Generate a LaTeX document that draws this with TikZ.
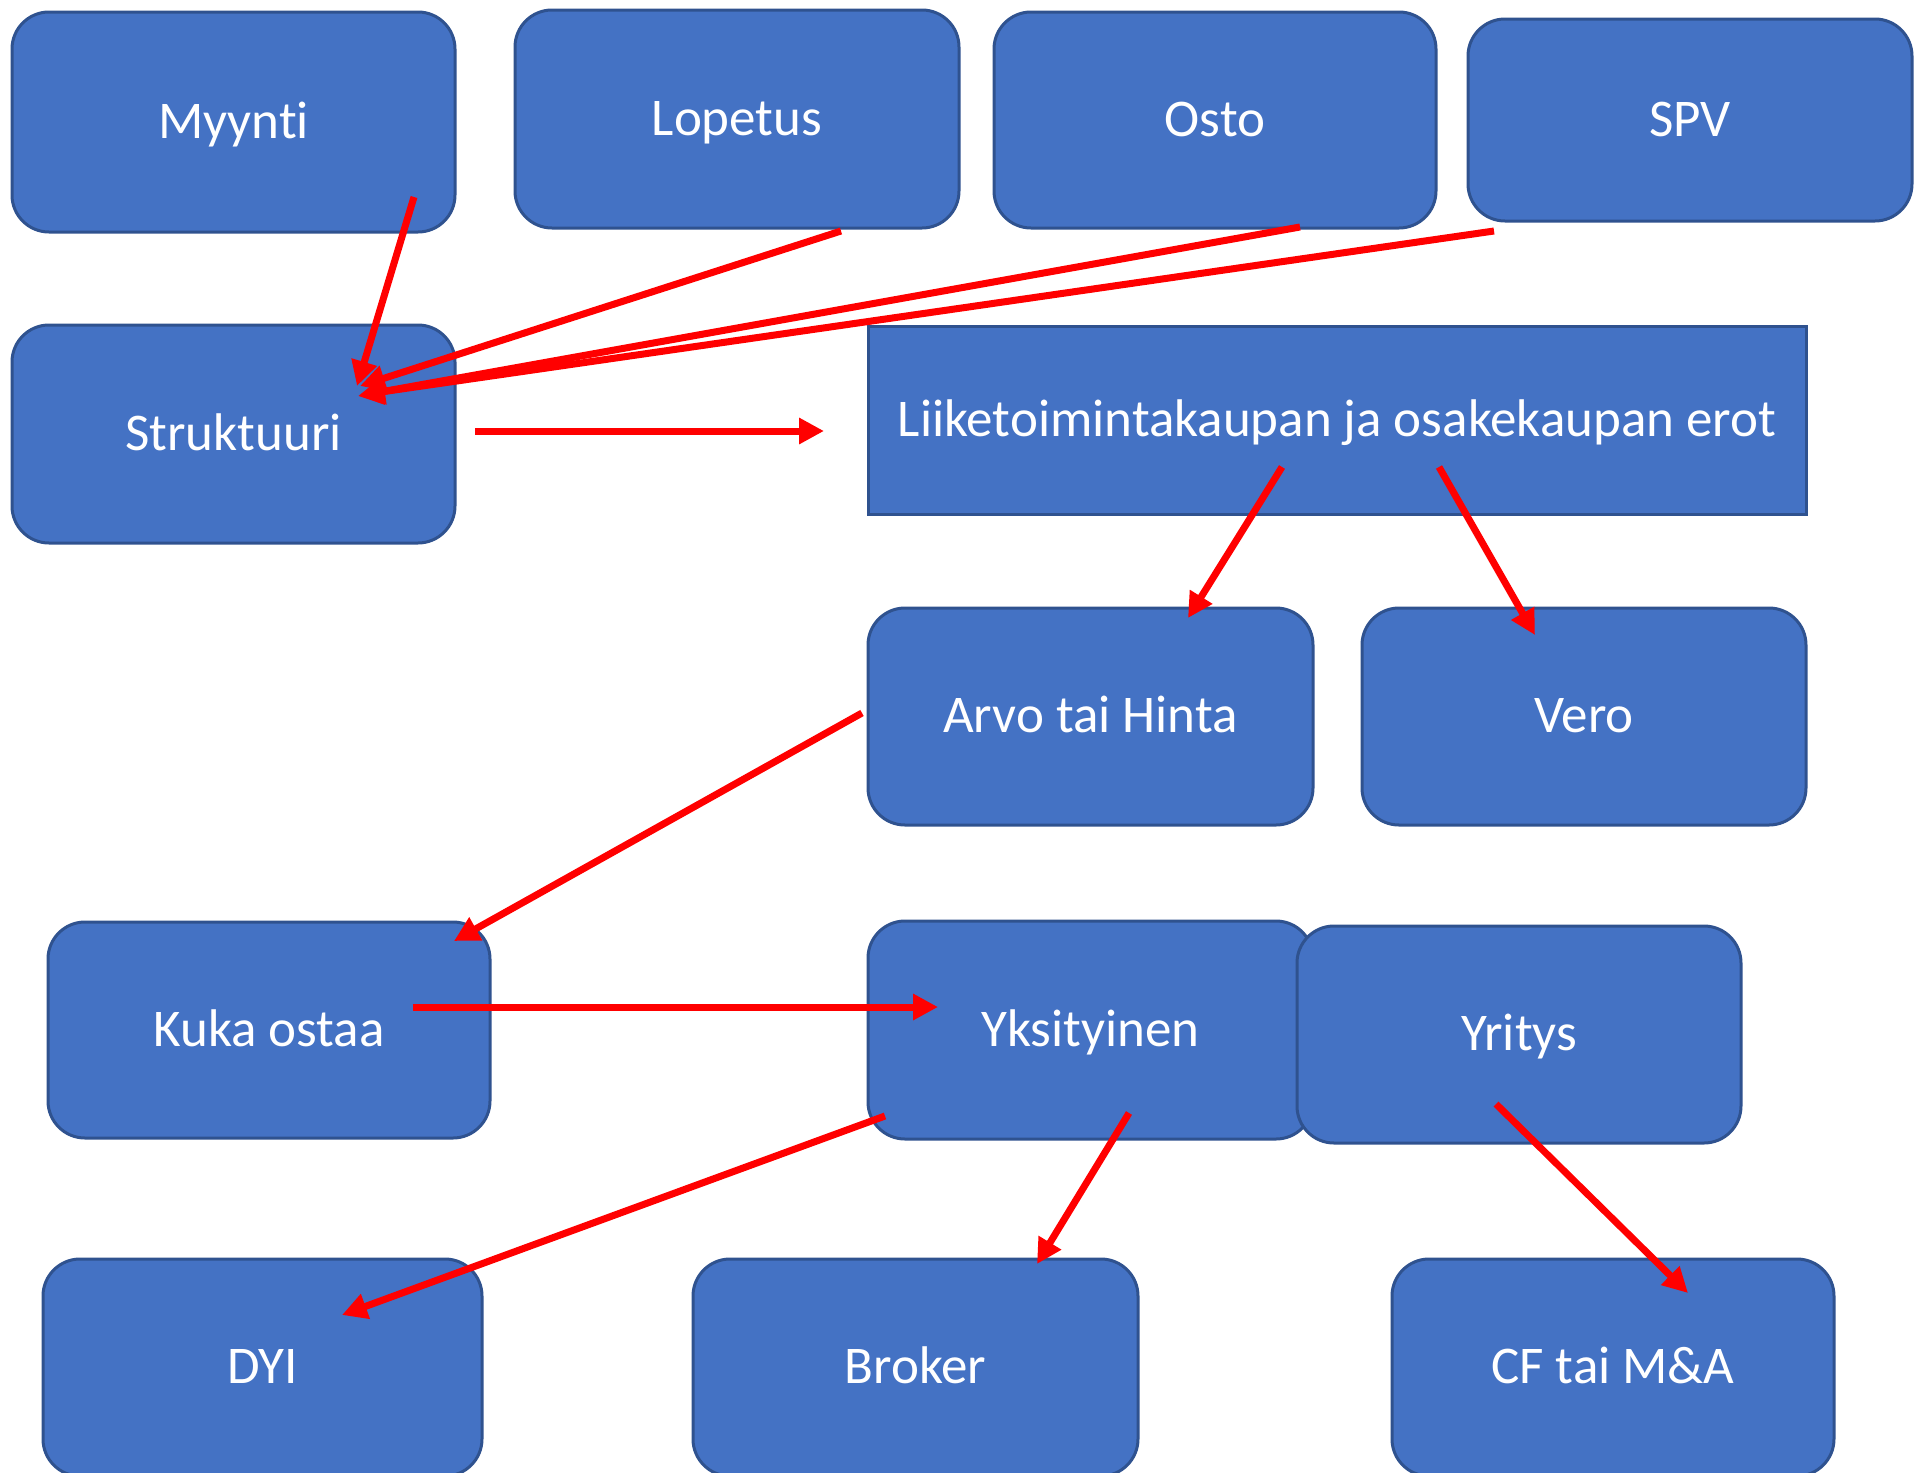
\documentclass[tikz,border=0pt]{standalone}
\usepackage{fontspec}
\setmainfont{Carlito}[Ligatures=NoCommon]
\usetikzlibrary{arrows.meta}
\definecolor{boxfill}{HTML}{4472C4}
\definecolor{boxline}{HTML}{2F528F}
\definecolor{arrowred}{HTML}{FF0000}
\tikzset{
  card/.style={draw=boxline, fill=boxfill, line width=3pt, rounded corners=37pt,
    inner sep=0pt, text=white, font=\fontsize{53}{62}\selectfont,
    text height=40pt, text depth=8pt},
  flatcard/.style={card, rounded corners=0pt},
  link/.style={draw=arrowred, line width=7pt, -{Triangle[length=25pt,width=25pt]}},
}
\begin{document}
\begin{tikzpicture}[x=1pt,y=-1pt]
\useasboundingbox (0,0) rectangle (1915,1473);
\clip (0,0) rectangle (1915,1473);
% boxes
\node[card, minimum width=443pt, minimum height=220pt] (myynti) at (233.5,122) {Myynti};
\node[card, minimum width=444pt, minimum height=218pt] (lopetus) at (737,119) {Lopetus};
\node[card, minimum width=442pt, minimum height=216pt] (osto) at (1215,120) {Osto};
\node[card, minimum width=444pt, minimum height=202pt] (spv) at (1690,120) {SPV};
\node[card, minimum width=443pt, minimum height=218pt] (struk) at (233.5,434) {Struktuuri};
\node[flatcard, minimum width=938pt, minimum height=188pt] (liike) at (1337,420) {Liiketoimintakaupan ja osakekaupan erot};
\node[card, minimum width=445pt, minimum height=217pt] (arvo) at (1090.5,716.5) {Arvo tai Hinta};
\node[card, minimum width=444pt, minimum height=217pt] (vero) at (1584,716.5) {Vero};
\node[card, minimum width=442pt, minimum height=216pt] (kuka) at (269,1030) {Kuka ostaa};
\node[card, minimum width=445pt, minimum height=218pt] (yks) at (1090.5,1030) {Yksityinen};
\node[card, minimum width=444pt, minimum height=217pt] (yri) at (1519,1034.5) {Yritys};
\node[card, minimum width=439pt, minimum height=217pt] (dyi) at (262.5,1367.5) {DYI};
\node[card, minimum width=445pt, minimum height=217pt] (broker) at (915.5,1367.5) {Broker};
\node[card, minimum width=442pt, minimum height=217pt] (cf) at (1613,1367.5) {CF tai M\&A};
% connectors (ends given relative to the box centres)
\draw[link] ([shift={(180.5,75)}]myynti.center) -- ([shift={(123.5,-48)}]struk.center);
\draw[link] ([shift={(104,112)}]lopetus.center) -- ([shift={(126.5,-48)}]struk.center);
\draw[link] ([shift={(85,107)}]osto.center) -- ([shift={(124.5,-38)}]struk.center);
\draw[link] ([shift={(-196,111)}]spv.center) -- ([shift={(126.5,-39)}]struk.center);
\draw[link] ([shift={(241.5,-3)}]struk.center) -- ([shift={(-513,11)}]liike.center);
\draw[link] ([shift={(-55,47)}]liike.center) -- ([shift={(97.5,-98.5)}]arvo.center);
\draw[link] ([shift={(102,47)}]liike.center) -- ([shift={(-49,-81.5)}]vero.center);
\draw[link] ([shift={(-228.5,-3.5)}]arvo.center) -- ([shift={(185,-89)}]kuka.center);
\draw[link] ([shift={(144,-23)}]kuka.center) -- ([shift={(-152.5,-23)}]yks.center);
\draw[link] ([shift={(-205.5,86)}]yks.center) -- ([shift={(79.5,-52.5)}]dyi.center);
\draw[link] ([shift={(38.5,83)}]yks.center) -- ([shift={(121.5,-103.5)}]broker.center);
\draw[link] ([shift={(-23,69.5)}]yri.center) -- ([shift={(75,-74.5)}]cf.center);
\end{tikzpicture}
\end{document}
